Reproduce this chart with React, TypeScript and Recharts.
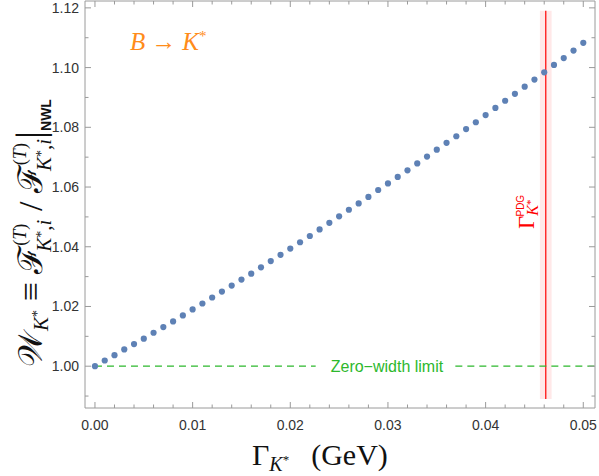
import React from 'react';
import {
  ScatterChart,
  Scatter,
  XAxis,
  YAxis,
  ReferenceLine,
  ReferenceArea,
  ReferenceDot,
} from 'recharts';

// Γ_K* (GeV)
const gammaValues = [
  0.000, 0.001, 0.002, 0.003, 0.004, 0.005, 0.006, 0.007, 0.008, 0.009,
  0.010, 0.011, 0.012, 0.013, 0.014, 0.015, 0.016, 0.017, 0.018, 0.019,
  0.020, 0.021, 0.022, 0.023, 0.024, 0.025, 0.026, 0.027, 0.028, 0.029,
  0.030, 0.031, 0.032, 0.033, 0.034, 0.035, 0.036, 0.037, 0.038, 0.039,
  0.040, 0.041, 0.042, 0.043, 0.044, 0.045, 0.046, 0.047, 0.048, 0.049,
  0.050,
];

// W_K* ratio
const ratioValues = [
  1.0000, 1.0019, 1.0037, 1.0056, 1.0074, 1.0092, 1.0112, 1.0131, 1.0150, 1.0170,
  1.0190, 1.0210, 1.0230, 1.0250, 1.0270, 1.0290, 1.0310, 1.0331, 1.0352, 1.0373,
  1.0394, 1.0415, 1.0436, 1.0458, 1.0480, 1.0502, 1.0524, 1.0545, 1.0567, 1.0590,
  1.0612, 1.0634, 1.0656, 1.0679, 1.0702, 1.0725, 1.0748, 1.0770, 1.0794, 1.0817,
  1.0841, 1.0865, 1.0889, 1.0912, 1.0936, 1.0960, 1.0984, 1.1009, 1.1032, 1.1057,
  1.1083,
];

const xMajorTicks = [0, 0.01, 0.02, 0.03, 0.04, 0.05];
const xMinorTicks = [
  0.002, 0.004, 0.006, 0.008, 0.012, 0.014, 0.016, 0.018, 0.022, 0.024, 0.026,
  0.028, 0.032, 0.034, 0.036, 0.038, 0.042, 0.044, 0.046, 0.048,
];
const yMajorTicks = [1.0, 1.02, 1.04, 1.06, 1.08, 1.1, 1.12];
const yMinorTicks = [0.99, 1.01, 1.03, 1.05, 1.07, 1.09, 1.11];

const gammaPDG = 0.04616;
const gammaPDGErr = 0.0006;

const data = gammaValues.map((g, i) => ({ g, w: ratioValues[i] }));

const axisColor = '#9a9a9a';
const labelColor = '#333333';
const dotColor = '#5E81B5';
const green = '#2DB82D';
const red = '#FF0000';
const orange = '#FF8C1A';
const sans = 'Liberation Sans, Arial, sans-serif';
const serif = 'Liberation Serif, DejaVu Serif, serif';

const isMajorX = (v: number) => xMajorTicks.some((t) => Math.abs(t - v) < 1e-9);
const isMajorY = (v: number) => yMajorTicks.some((t) => Math.abs(t - v) < 1e-9);

const BottomTick = (props: any) => {
  const { x, y, payload } = props;
  const major = isMajorX(payload.value);
  return (
    <g>
      <line x1={x} x2={x} y1={y} y2={y - (major ? 6 : 3.5)} stroke={axisColor} />
      {major && (
        <text x={x} y={y + 22} textAnchor="middle" fontSize={14} fill={labelColor} fontFamily={sans}>
          {payload.value.toFixed(2)}
        </text>
      )}
    </g>
  );
};

const TopTick = (props: any) => {
  const { x, y, payload } = props;
  const major = isMajorX(payload.value);
  return <line x1={x} x2={x} y1={y} y2={y + (major ? 6 : 3.5)} stroke={axisColor} />;
};

const LeftTick = (props: any) => {
  const { x, y, payload } = props;
  const major = isMajorY(payload.value);
  return (
    <g>
      <line x1={x} x2={x + (major ? 6 : 3.5)} y1={y} y2={y} stroke={axisColor} />
      {major && (
        <text x={x - 6} y={y + 5} textAnchor="end" fontSize={14} fill={labelColor} fontFamily={sans}>
          {payload.value.toFixed(2)}
        </text>
      )}
    </g>
  );
};

const RightTick = (props: any) => {
  const { x, y, payload } = props;
  const major = isMajorY(payload.value);
  return <line x1={x} x2={x - (major ? 6 : 3.5)} y1={y} y2={y} stroke={axisColor} />;
};

const Dot = (props: any) => <circle cx={props.cx} cy={props.cy} r={3.1} fill={dotColor} />;

export default function App() {
  const xTicks = [...xMajorTicks, ...xMinorTicks].sort((a, b) => a - b);
  const yTicks = [...yMajorTicks, ...yMinorTicks].sort((a, b) => a - b);
  const xDomain: [number, number] = [-0.00102, 0.0512];
  const yDomain: [number, number] = [0.986, 1.1223];

  return (
    <div style={{ position: 'absolute', left: 0, top: 0 }}>
      <ScatterChart width={599} height={476} margin={{ top: 0, right: 0, bottom: 0, left: 0 }}>
        <XAxis xAxisId="b" type="number" dataKey="g" domain={xDomain} ticks={xTicks}
          allowDataOverflow interval={0} orientation="bottom" height={68}
          stroke={axisColor} tickSize={0} tickMargin={0} tickLine={false} tick={<BottomTick />} />
        <XAxis xAxisId="t" type="number" dataKey="g" domain={xDomain} ticks={xTicks}
          allowDataOverflow interval={0} orientation="top" height={1}
          stroke={axisColor} tickSize={0} tickMargin={0} tickLine={false} tick={<TopTick />} />
        <YAxis yAxisId="l" type="number" dataKey="w" domain={yDomain} ticks={yTicks}
          allowDataOverflow interval={0} orientation="left" width={85}
          stroke={axisColor} tickSize={0} tickMargin={0} tickLine={false} tick={<LeftTick />} />
        <YAxis yAxisId="r" type="number" dataKey="w" domain={yDomain} ticks={yTicks}
          allowDataOverflow interval={0} orientation="right" width={4}
          stroke={axisColor} tickSize={0} tickMargin={0} tickLine={false} tick={<RightTick />} />

        <ReferenceArea xAxisId="b" yAxisId="l"
          x1={gammaPDG - gammaPDGErr} x2={gammaPDG + gammaPDGErr} y1={0.989} y2={1.119}
          fill={red} fillOpacity={0.09} stroke="none" />
        <ReferenceLine xAxisId="b" yAxisId="l"
          segment={[{ x: gammaPDG, y: 0.989 }, { x: gammaPDG, y: 1.119 }]}
          stroke={red} strokeWidth={1.2} />

        <ReferenceLine xAxisId="b" yAxisId="l"
          segment={[{ x: 0, y: 1 }, { x: 0.0226, y: 1 }]}
          stroke={green} strokeDasharray="7 5" strokeWidth={1.2} />
        <ReferenceLine xAxisId="b" yAxisId="l"
          segment={[{ x: 0.0369, y: 1 }, { x: 0.0512, y: 1 }]}
          stroke={green} strokeDasharray="7 5" strokeWidth={1.2} />
        <ReferenceDot xAxisId="b" yAxisId="l" x={0.0299} y={1} r={0}
          fill="none" stroke="none"
          label={{ value: 'Zero\u2212width limit', position: 'center', fill: green, fontSize: 16,
            fontFamily: sans }} />

        <Scatter xAxisId="b" yAxisId="l" data={data} shape={<Dot />} isAnimationActive={false} />

        <text x={130} y={50} fill={orange} fontSize={25} fontFamily={serif} fontStyle="italic">
          B<tspan dx={6} fontStyle="normal">{'\u2192'}</tspan>
          <tspan dx={6}>K</tspan>
          <tspan dy={-9} fontSize={15} fontStyle="normal">*</tspan>
        </text>

        <text transform="translate(534 229) rotate(-90)" fill={red} fontFamily={serif} fontSize={23}>
          {'\u0393'}
          <tspan dy={4} fontSize={16} fontStyle="italic">K</tspan>
          <tspan dy={-4} fontSize={11}>*</tspan>
          <tspan dx={-17} dy={-10} fontSize={10} fontFamily={sans}>PDG</tspan>
        </text>

        <text x={252} y={465} fill="#111" fontFamily={serif} fontSize={30}>
          {'\u0393'}
          <tspan dy={6} fontSize={20} fontStyle="italic">K</tspan>
          <tspan dy={-7} fontSize={13}>*</tspan>
          <tspan dy={1} dx={22} fontSize={30}>(GeV)</tspan>
        </text>

        <text transform="translate(42 233) rotate(-90)" textAnchor="middle" fill="#111"
          fontFamily={serif} fontSize={34}>
          {'\u{1D4B2}'}
          <tspan dy={6} fontSize={21} fontStyle="italic">K</tspan>
          <tspan dy={-6} fontSize={14}>*</tspan>
          <tspan dy={0} fontSize={34}>{' \u2261 \u2131'}</tspan>
          <tspan dy={-16} fontSize={18}>(</tspan>
          <tspan fontSize={18} fontStyle="italic">T</tspan>
          <tspan fontSize={18}>)</tspan>
          <tspan dx={-28} dy={25} fontSize={21} fontStyle="italic">K</tspan>
          <tspan dy={-5} fontSize={14}>*</tspan>
          <tspan dy={5} fontSize={21}>,</tspan>
          <tspan fontSize={21} fontStyle="italic">i</tspan>
          <tspan dy={-9} fontSize={34}>{' / \u2131'}</tspan>
          <tspan dy={-16} fontSize={18}>(</tspan>
          <tspan fontSize={18} fontStyle="italic">T</tspan>
          <tspan fontSize={18}>)</tspan>
          <tspan dx={-28} dy={25} fontSize={21} fontStyle="italic">K</tspan>
          <tspan dy={-5} fontSize={14}>*</tspan>
          <tspan dy={5} fontSize={21}>,</tspan>
          <tspan fontSize={21} fontStyle="italic">i</tspan>
          <tspan dy={-8} fontSize={40}>|</tspan>
          <tspan dy={8} fontSize={14} fontFamily={sans} fontWeight="bold">NWL</tspan>
        </text>
      </ScatterChart>
    </div>
  );
}
